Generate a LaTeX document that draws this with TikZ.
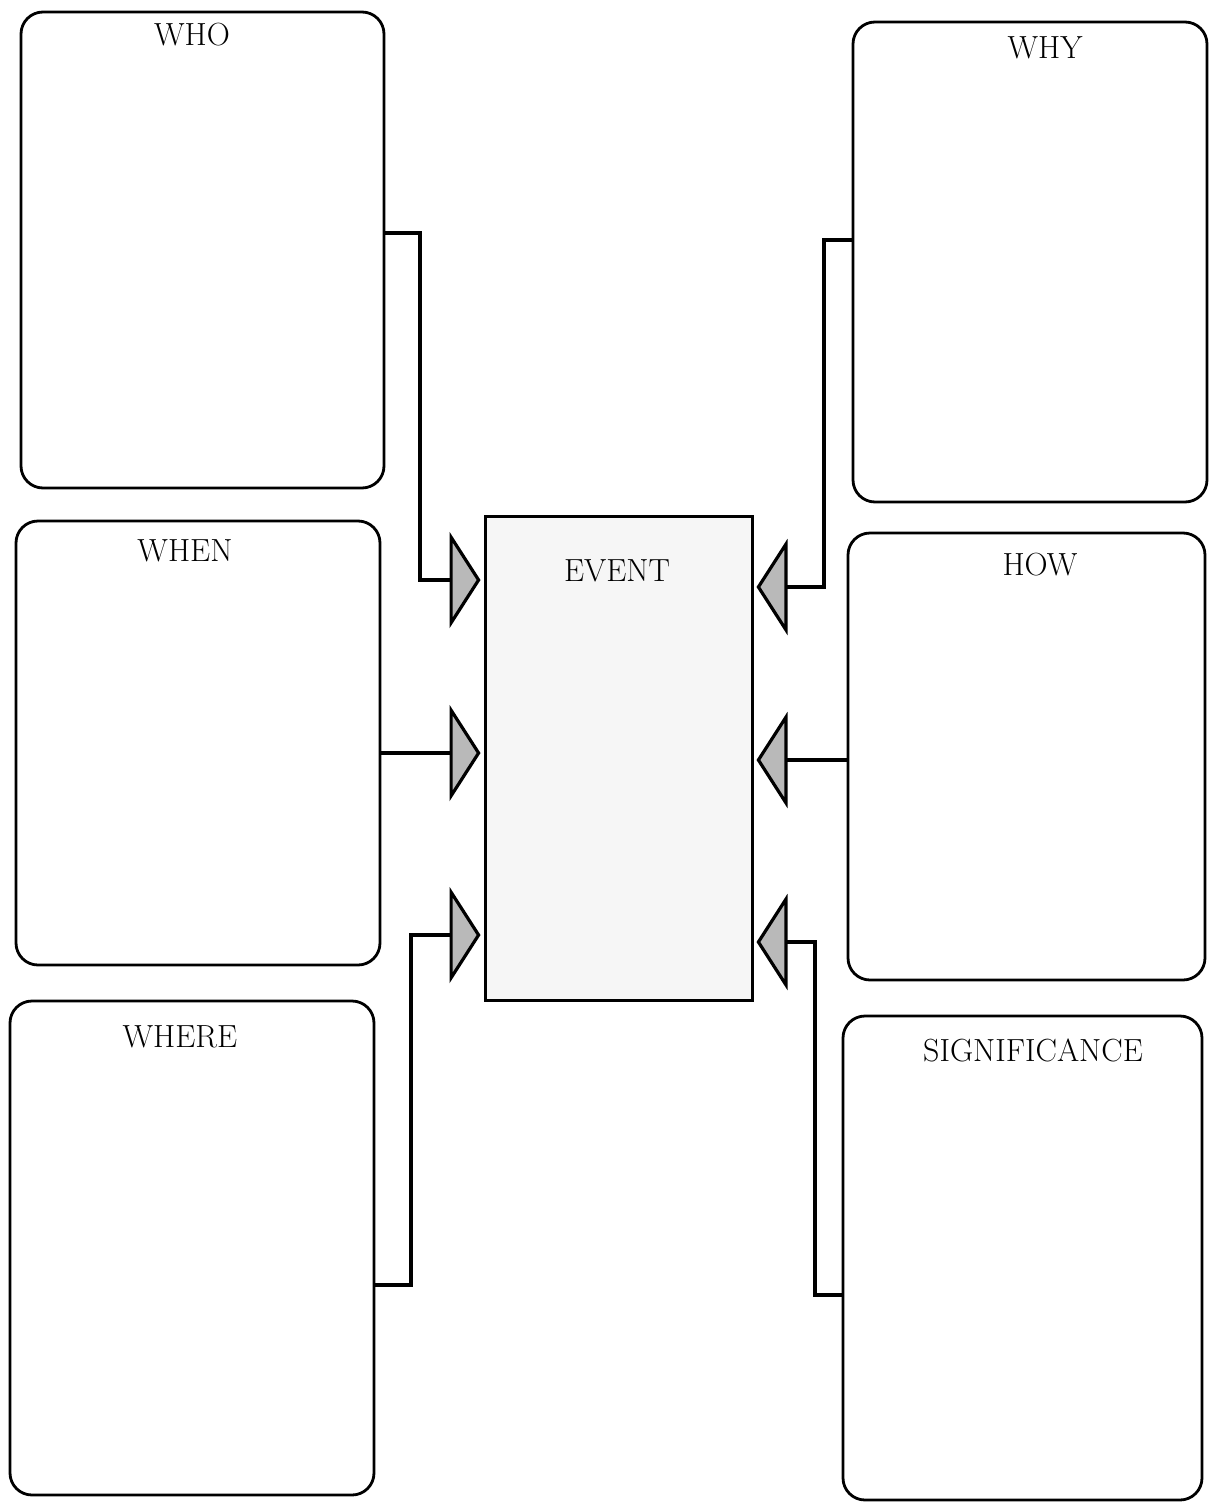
\documentclass[tikz,border=0pt]{standalone}
\usetikzlibrary{arrows.meta}
\begin{document}
\begin{tikzpicture}[x=1pt,y=-1pt,
  box/.style={draw=black,line width=2.8pt,rounded corners=22pt,inner sep=0pt},
  evbox/.style={draw=black,line width=3pt,fill=gray!7,inner sep=0pt},
  lbl/.style={inner sep=0pt,font=\fontsize{32}{38}\selectfont},
  conn/.style={line width=3.2pt,line join=miter,shorten >=3pt,
    -{Triangle[length=31pt,width=96pt,fill=gray!55,line join=miter]}}]
\useasboundingbox (0,0) rectangle (1210,1504);
% boxes
\node[box,minimum width=363pt,minimum height=476pt] (who) at (202.5,250) {};
\node[box,minimum width=364pt,minimum height=444pt] (when) at (198,743) {};
\node[box,minimum width=364pt,minimum height=494pt] (where) at (192,1248) {};
\node[box,minimum width=354pt,minimum height=480pt] (why) at (1030,262) {};
\node[box,minimum width=357pt,minimum height=447pt] (how) at (1026.5,756.5) {};
\node[box,minimum width=359pt,minimum height=484pt] (sig) at (1022.5,1258) {};
\node[evbox,minimum width=267pt,minimum height=484pt] (event) at (618.5,758) {};
% labels
\node[lbl] (lwho) at (192,35) {WHO};
\node[lbl] (lwhen) at (185,551) {WHEN};
\node[lbl] (lwhere) at (180,1037) {WHERE};
\node[lbl] (lwhy) at (1045,48) {WHY};
\node[lbl] (lhow) at (1040,565) {HOW};
\node[lbl] (lsig) at (1033,1050) {SIGNIFICANCE};
\node[lbl] (levent) at (617,571) {EVENT};
% connectors
\draw[conn] (who.east |- 0,233) -| (420,580) -- (event.west |- 0,580);
\draw[conn] (when.east |- 0,753) -- (event.west |- 0,753);
\draw[conn] (where.east |- 0,1285) -| (411,935) -- (event.west |- 0,935);
\draw[conn] (why.west |- 0,240) -| (824,587) -- (event.east |- 0,587);
\draw[conn] (how.west |- 0,760) -- (event.east |- 0,760);
\draw[conn] (sig.west |- 0,1295) -| (815,942) -- (event.east |- 0,942);
\end{tikzpicture}
\end{document}
